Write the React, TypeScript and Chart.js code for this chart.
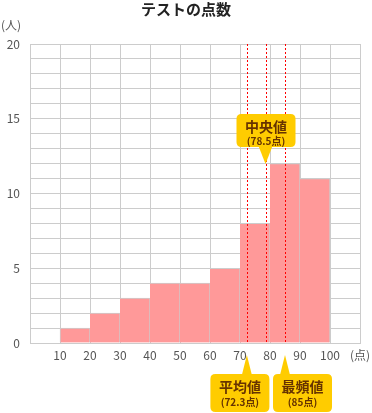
import React, { useEffect, useRef } from 'react';
import { Chart, registerables } from 'chart.js';

Chart.register(...registerables);

const chartTitle = 'テストの点数';
const yUnitLabel = '(人)';
const xUnitLabel = '(点)';
const binStarts = [10, 20, 30, 40, 50, 60, 70, 80, 90];
const binWidth = 10;
const counts = [1, 2, 3, 4, 4, 5, 8, 12, 11];
const yTickLabels = ['0', '5', '10', '15', '20'];
const markerNames = ['平均値', '中央値', '最頻値'];
const markerValues = [72.3, 78.5, 85];
const markerValueTexts = ['(72.3点)', '(78.5点)', '(85点)'];
const markerSides = ['below', 'above', 'below'];

const FONT = '"Noto Sans CJK JP", "Noto Sans", sans-serif';
const BOX_DX = [-7, 0.5, 17.5];

function roundRect(ctx: CanvasRenderingContext2D, x: number, y: number, w: number, h: number, r: number) {
  ctx.beginPath();
  ctx.moveTo(x + r, y);
  ctx.lineTo(x + w - r, y);
  ctx.quadraticCurveTo(x + w, y, x + w, y + r);
  ctx.lineTo(x + w, y + h - r);
  ctx.quadraticCurveTo(x + w, y + h, x + w - r, y + h);
  ctx.lineTo(x + r, y + h);
  ctx.quadraticCurveTo(x, y + h, x, y + h - r);
  ctx.lineTo(x, y + r);
  ctx.quadraticCurveTo(x, y, x + r, y);
  ctx.closePath();
}

const overlayPlugin = {
  id: 'overlay',
  afterDraw(chart: any) {
    const ctx: CanvasRenderingContext2D = chart.ctx;
    const area = chart.chartArea;
    const xs = chart.scales.x;
    ctx.save();
    // title
    ctx.fillStyle = '#222';
    ctx.font = `bold 15px ${FONT}`;
    ctx.textAlign = 'center';
    ctx.textBaseline = 'middle';
    ctx.fillText(chartTitle, chart.width / 2, 9);
    // y unit
    ctx.fillStyle = '#555';
    ctx.font = `12px ${FONT}`;
    ctx.textAlign = 'left';
    ctx.fillText(yUnitLabel, 1, 25);

    // dotted lines
    ctx.strokeStyle = '#ff0000';
    ctx.lineWidth = 1;
    ctx.setLineDash([2, 2]);
    markerValues.forEach((v) => {
      const px = Math.round(xs.getPixelForValue(v)) + 0.5;
      ctx.beginPath();
      ctx.moveTo(px, area.top);
      ctx.lineTo(px, area.bottom);
      ctx.stroke();
    });
    ctx.setLineDash([]);

    // callouts
    markerValues.forEach((v, i) => {
      const px = xs.getPixelForValue(v);
      const cx = px + BOX_DX[i];
      const w = 59;
      ctx.fillStyle = '#ffcc00';
      if (markerSides[i] === 'above') {
        const top = 114, bottom = 147;
        roundRect(ctx, cx - w / 2, top, w, bottom - top, 5);
        ctx.fill();
        ctx.beginPath();
        ctx.moveTo(px - 7, bottom - 1);
        ctx.lineTo(px + 7, bottom - 1);
        ctx.lineTo(px, 164);
        ctx.closePath();
        ctx.fill();
        ctx.fillStyle = '#663300';
        ctx.textAlign = 'center';
        ctx.textBaseline = 'middle';
        ctx.font = `bold 14px ${FONT}`;
        ctx.fillText(markerNames[i], cx, 127);
        ctx.font = `bold 10px ${FONT}`;
        ctx.fillText(markerValueTexts[i], cx, 141);
      } else {
        const top = 374, bottom = 412;
        roundRect(ctx, cx - w / 2, top, w, bottom - top, 5);
        ctx.fill();
        ctx.beginPath();
        ctx.moveTo(px - 5, top + 1);
        ctx.lineTo(px + 5, top + 1);
        ctx.lineTo(px, 355);
        ctx.closePath();
        ctx.fill();
        ctx.fillStyle = '#663300';
        ctx.textAlign = 'center';
        ctx.textBaseline = 'middle';
        ctx.font = `bold 14px ${FONT}`;
        ctx.fillText(markerNames[i], cx, 387);
        ctx.font = `bold 10px ${FONT}`;
        ctx.fillText(markerValueTexts[i], cx, 402);
      }
    });
    ctx.restore();
  },
};

export default function App() {
  const ref = useRef<HTMLCanvasElement | null>(null);
  useEffect(() => {
    if (!ref.current) return;
    const chart = new Chart(ref.current, {
      type: 'bar',
      data: {
        datasets: [
          {
            data: binStarts.map((s, i) => ({ x: s + binWidth / 2, y: counts[i] })),
            backgroundColor: '#ff9999',
            borderColor: '#cccccc',
            borderWidth: (c: any) => ({ left: c.dataIndex === 0 ? 1 : 0, right: 1, top: 1, bottom: 0 }),
            borderSkipped: false,
            barPercentage: 1,
            categoryPercentage: 1,
          } as any,
        ],
      },
      options: {
        responsive: false,
        animation: false,
        layout: { padding: { top: 44, right: 12, left: 0, bottom: 0 } },
        plugins: {
          legend: { display: false },
          tooltip: { enabled: false },
          title: { display: false },
        },
        scales: {
          x: {
            type: 'linear',
            offset: false,
            min: 0,
            max: 110,
            grid: { color: '#cccccc', drawTicks: false, lineWidth: 1, offset: false },
            border: { color: '#cccccc' },
            ticks: {
              stepSize: 10,
              autoSkip: false,
              maxRotation: 0,
              padding: 5,
              color: '#555',
              font: { family: FONT, size: 12 },
              callback: (v: any) => (v === 0 ? '' : v === 110 ? xUnitLabel : String(v)),
            },
            afterFit: (s: any) => {
              s.height = 70;
              s.paddingLeft = 0;
              s.paddingRight = 0;
            },
          },
          y: {
            min: 0,
            max: 20,
            grid: { color: '#cccccc', drawTicks: false, lineWidth: 1 },
            border: { color: '#cccccc' },
            ticks: {
              stepSize: 1,
              autoSkip: false,
              padding: 10,
              color: '#555',
              font: { family: FONT, size: 12 },
              callback: (v: any) => (yTickLabels.includes(String(v)) ? String(v) : ''),
            },
            afterFit: (s: any) => {
              s.width = 30;
            },
          },
        },
      } as any,
      plugins: [overlayPlugin],
    });
    return () => chart.destroy();
  }, []);
  return (
    <div style={{ position: 'absolute', left: 0, top: 0, width: 372, height: 413 }}>
      <canvas ref={ref} width={372} height={413} />
    </div>
  );
}
